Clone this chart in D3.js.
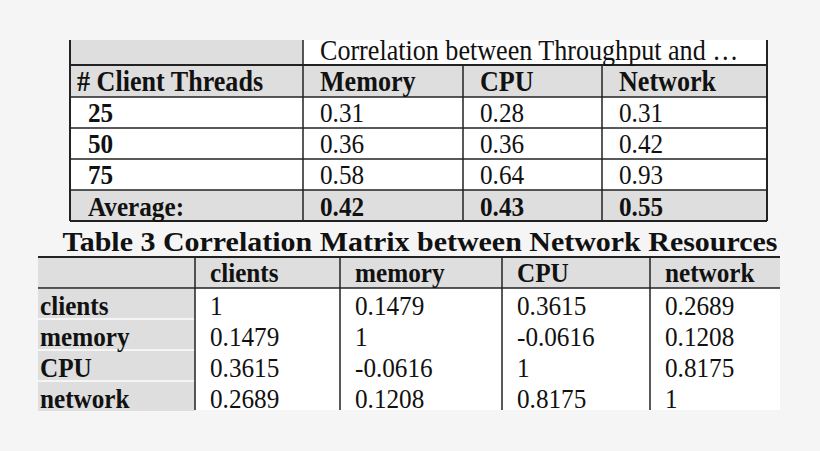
<!DOCTYPE html><html><head><meta charset="utf-8">
<script src="https://cdn.jsdelivr.net/npm/d3@7"></script>
<style>body{margin:0;background:#f5f5f5}</style></head><body>
<svg id="c" width="820" height="451"></svg>
<script>
const t1Header=["# Client Threads","Memory","CPU","Network"];
const t1Rows=["25","50","75"];
const t1Memory=[0.31,0.36,0.58];
const t1CPU=[0.28,0.36,0.64];
const t1Network=[0.31,0.42,0.93];
const t1Avg=[0.42,0.43,0.55];
const t2Title="Table 3 Correlation Matrix between Network Resources";
const t2Labels=["clients","memory","CPU","network"];
const t2Values=[["1","0.1479","0.3615","0.2689"],["0.1479","1","-0.0616","0.1208"],["0.3615","-0.0616","1","0.8175"],["0.2689","0.1208","0.8175","1"]];

const svg=d3.select("#c");
svg.append("rect").attr("width",820).attr("height",451).attr("fill","#f5f5f5");
const F="Liberation Serif, Times New Roman, serif";
const gray="#dedede";
const x1=d3.scaleOrdinal().domain([0,1,2,3,4]).range([70,303,463,602,767]);
const y1=d3.scaleOrdinal().domain([0,1,2,3,4,5,6]).range([40,65,97,128,159,190,221]);
const rowFill=["gray","gray","white","white","white","gray"];
rowFill.forEach((f,i)=>svg.append("rect").attr("x",70).attr("y",y1(i)).attr("width",697).attr("height",y1(i+1)-y1(i)).attr("fill",f=="gray"?gray:"#fff"));
svg.append("rect").attr("x",303).attr("y",40).attr("width",464).attr("height",25).attr("fill","#fff");
const L=(a,b,c,d,w=1.5)=>svg.append("line").attr("x1",a).attr("y1",b).attr("x2",c).attr("y2",d).attr("stroke","#222").attr("stroke-width",w);
for(let i=1;i<=6;i++)L(70,y1(i),767,y1(i),i==6||i==1?2:1.5);
L(70,40,70,221,2);L(767,40,767,221,2);L(303,40,303,221);
L(463,65,463,221);L(602,65,602,221);
const T=(s,x,y,b,sz)=>svg.append("text").attr("x",x).attr("y",y).attr("font-family",F).attr("font-size",sz||(b?26:26)).attr("font-weight",b?"bold":"normal").attr("fill","#111").attr("transform",`translate(${x},0) scale(0.9,1) translate(${-x},0)`).text(s);
T("Correlation between Throughput and …",320,60,false,29);
t1Header.forEach((h,i)=>T(h,x1(i)+(i==0?7:17),91,true,29));
const cols=[t1Memory,t1CPU,t1Network];
t1Rows.forEach((r,j)=>{T(r,88,122+31*j,true,28);cols.forEach((c,i)=>T(c[j].toFixed(2),x1(i+1)+17,122+31*j,false,28));});
T("Average:",88,216,true,28);
t1Avg.forEach((v,i)=>T(v.toFixed(2),x1(i+1)+17,216,true,28));
// Table 2
svg.append("text").attr("x",420).attr("y",251).attr("text-anchor","middle").attr("font-family",F).attr("font-size",28).attr("font-weight","bold").attr("fill","#111").attr("textLength",715).attr("lengthAdjust","spacingAndGlyphs").text(t2Title);
svg.append("rect").attr("x",38).attr("y",257).attr("width",742).attr("height",31).attr("fill",gray);
t2Labels.forEach((l,j)=>svg.append("rect").attr("x",38).attr("y",289+31*j).attr("width",157).attr("height",29).attr("fill",gray));
svg.append("rect").attr("x",195).attr("y",288).attr("width",585).attr("height",122).attr("fill","#fff");
L(38,257,780,257,2);L(38,288,780,288,1.5);
const xs2=[195,340,502,650];
xs2.forEach(x=>L(x,257,x,410));
t2Labels.forEach((l,i)=>T(l,xs2[i]+15,282,true,28));
t2Labels.forEach((l,j)=>{T(l,40,315+31*j,true,28);t2Values[j].forEach((v,i)=>T(v,xs2[i]+15,315+31*j,false,28));});
</script></body></html>
